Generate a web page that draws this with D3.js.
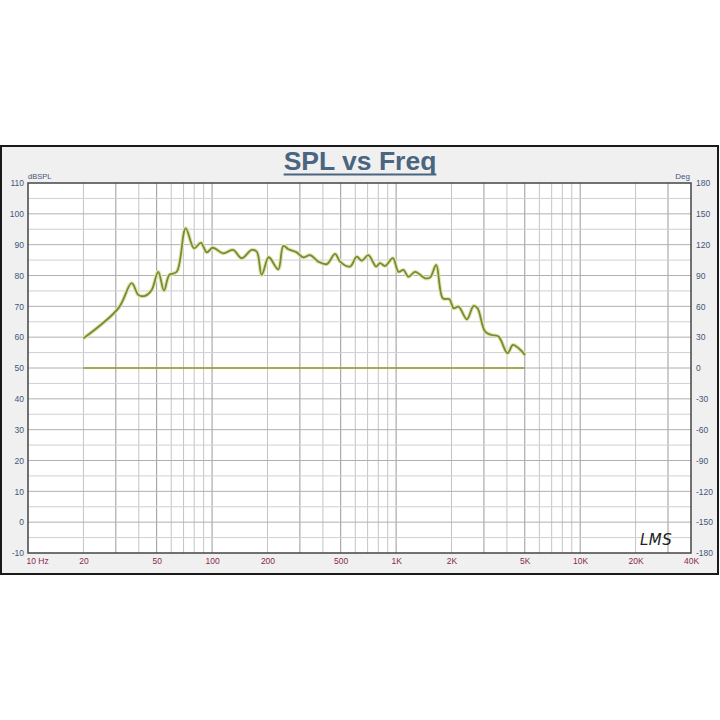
<!DOCTYPE html>
<html><head><meta charset="utf-8">
<script src="https://cdn.jsdelivr.net/npm/d3@7"></script>
<style>html,body{margin:0;padding:0;background:#fff;}</style>
</head><body>
<script>
// ---- data ----
const freqs = [20, 31, 36.6, 39.8, 43.3, 47, 51, 54.8, 58.6, 64.3, 71.9, 79.8, 87, 93.5, 100.8, 115, 130, 145, 164, 175, 186, 202, 207, 229, 244, 260, 288, 313, 341, 378, 420, 466, 496, 562, 611, 650, 707, 778, 818, 871, 960, 1030, 1096, 1167, 1269, 1438, 1531, 1650, 1794, 1950, 2052, 2183, 2423, 2632, 2767, 3046, 3313, 3600, 4029, 4307, 4564, 5023];
const spl   = [59.6, 69.4, 77.5, 73.7, 73.4, 75.3, 81.2, 75.1, 80.2, 81.2, 95.3, 88.8, 90.6, 87.5, 89.0, 87.2, 88.3, 85.6, 88.3, 87.7, 80.2, 85.9, 85.6, 82.0, 89.6, 88.5, 87.5, 85.9, 86.6, 84.5, 83.7, 87.0, 84.5, 82.9, 86.1, 84.8, 86.6, 82.9, 84.0, 83.1, 85.6, 81.2, 81.8, 79.6, 81.2, 79.1, 79.4, 83.4, 72.6, 72.3, 69.4, 69.9, 65.8, 70.1, 69.4, 61.8, 60.7, 60.2, 54.8, 57.5, 56.7, 54.2];
const phaseFreqs = [20, 5000];
const phaseDeg = [0, 0];
const xTickValues = [10, 20, 50, 100, 200, 500, 1000, 2000, 5000, 10000, 20000, 40000];
const xTickLabels = ["10  Hz", "20", "50", "100", "200", "500", "1K", "2K", "5K", "10K", "20K", "40K"];
const yLeftTicks = [110, 100, 90, 80, 70, 60, 50, 40, 30, 20, 10, 0, -10];
const yRightTicks = [180, 150, 120, 90, 60, 30, 0, -30, -60, -90, -120, -150, -180];
const titleText = "SPL vs Freq";

// ---- layout ----
const W = 720, H = 720;
const frame = {x: 1, y: 146, w: 717, h: 428};
const plot = {l: 28, r: 691, t: 183, b: 553};

const svg = d3.select("body").append("svg").attr("width", W).attr("height", H)
  .style("font-family", "'Liberation Sans', Arial, sans-serif");

svg.append("rect").attr("x", 0).attr("y", 0).attr("width", W).attr("height", H).attr("fill", "#fff");
svg.append("rect").attr("x", frame.x).attr("y", frame.y).attr("width", frame.w).attr("height", frame.h)
  .attr("fill", "#f0f0f0").attr("stroke", "#1a1a1a").attr("stroke-width", 2);

const x = d3.scaleLog().domain([10, 40000]).range([plot.l, plot.r]);
const y = d3.scaleLinear().domain([-10, 110]).range([plot.b, plot.t]);
const yR = d3.scaleLinear().domain([-180, 180]).range([plot.b, plot.t]);

svg.append("rect").attr("x", plot.l).attr("y", plot.t).attr("width", plot.r - plot.l).attr("height", plot.b - plot.t)
  .attr("fill", "#fff");

// grid: vertical lines at every 1..9 x decade
const vLines = [];
for (let dec = 10; dec <= 10000; dec *= 10) {
  for (let m = 1; m <= 9; m++) { const f = m * dec; if (f > 10 && f < 40000) vLines.push(f); }
}
svg.append("g").selectAll("line").data(vLines).join("line")
  .attr("x1", d => x(d)).attr("x2", d => x(d)).attr("y1", plot.t).attr("y2", plot.b)
  .attr("stroke", d => { const m = d / Math.pow(10, Math.floor(Math.log10(d) + 1e-9)); return (Math.abs(m - 1) < 1e-6 || Math.abs(m - 3) < 1e-6 || Math.abs(m - 5) < 1e-6) ? "#999" : "#c4c4c4"; })
  .attr("stroke-width", 1);

const hLines = d3.range(-5, 110, 5);
svg.append("g").selectAll("line").data(hLines).join("line")
  .attr("x1", plot.l).attr("x2", plot.r).attr("y1", d => y(d)).attr("y2", d => y(d))
  .attr("stroke", d => d % 10 === 0 ? "#b0b0b0" : "#d0d0d0").attr("stroke-width", 1);

svg.append("rect").attr("x", plot.l).attr("y", plot.t).attr("width", plot.r - plot.l).attr("height", plot.b - plot.t)
  .attr("fill", "none").attr("stroke", "#444").attr("stroke-width", 1.5);

// axes labels
const leftAxis = d3.axisLeft(y).tickValues(yLeftTicks).tickSize(0).tickPadding(4).tickFormat(d => String(d));
const gL = svg.append("g").attr("transform", `translate(${plot.l},0)`).call(leftAxis);
gL.select(".domain").remove();
gL.selectAll("text").attr("fill", "#44557a").style("font-size", "8.5px").style("font-family", "'Liberation Sans', Arial, sans-serif");

const rightAxis = d3.axisRight(yR).tickValues(yRightTicks).tickSize(0).tickPadding(5).tickFormat(d => String(d));
const gR = svg.append("g").attr("transform", `translate(${plot.r},0)`).call(rightAxis);
gR.select(".domain").remove();
gR.selectAll("text").attr("fill", "#44557a").style("font-size", "8.5px").style("font-family", "'Liberation Sans', Arial, sans-serif");

const bottomAxis = d3.axisBottom(x).tickValues(xTickValues).tickSize(0).tickPadding(5)
  .tickFormat((d, i) => xTickLabels[i]);
const gB = svg.append("g").attr("transform", `translate(0,${plot.b})`).call(bottomAxis);
gB.select(".domain").remove();
gB.selectAll("text").attr("fill", "#8a2a4a").style("font-size", "8.5px").style("font-family", "'Liberation Sans', Arial, sans-serif")
  .attr("text-anchor", (d, i) => i === 0 ? "start" : "middle")
  .attr("dx", (d, i) => i === 0 ? -2 : 0);

svg.append("text").attr("x", plot.l).attr("y", plot.t - 4).text("dBSPL")
  .attr("fill", "#44557a").style("font-size", "7.5px");
svg.append("text").attr("x", plot.r - 1).attr("y", plot.t - 4).attr("text-anchor", "end").text("Deg")
  .attr("fill", "#44557a").style("font-size", "8px");

// title
const title = svg.append("text").attr("x", 360).attr("y", 170).attr("text-anchor", "middle")
  .text(titleText).attr("fill", "#4a6580").style("font-size", "26.5px").style("font-weight", "bold");
const tb = title.node().getBBox();
svg.append("line").attr("x1", tb.x).attr("x2", tb.x + tb.width).attr("y1", 174.5).attr("y2", 174.5)
  .attr("stroke", "#4a6580").attr("stroke-width", 2.2);

// phase line
const phaseLine = d3.line().x((d, i) => x(phaseFreqs[i])).y(d => yR(d));
svg.append("path").datum(phaseDeg).attr("d", phaseLine).attr("fill", "none")
  .attr("stroke", "#9a9a2a").attr("stroke-width", 1.6);

// SPL curve
const splLine = d3.line().x((d, i) => x(freqs[i])).y(d => y(d)).curve(d3.curveCatmullRom.alpha(0.5));
svg.append("path").datum(spl).attr("d", splLine).attr("fill", "none")
  .attr("stroke", "#dfe6b0").attr("stroke-width", 4).attr("stroke-linejoin", "round");
svg.append("path").datum(spl).attr("d", splLine).attr("fill", "none")
  .attr("stroke", "#7b8a35").attr("stroke-width", 1.8).attr("stroke-linejoin", "round");

// LMS mark
svg.append("text").attr("x", 640).attr("y", 545).text("LMS")
  .attr("fill", "#222").style("font-size", "15px").style("font-style", "italic")
  .style("font-family", "'DejaVu Sans', sans-serif").style("font-weight", "300").style("letter-spacing", "0.5px");
</script>
</body></html>
